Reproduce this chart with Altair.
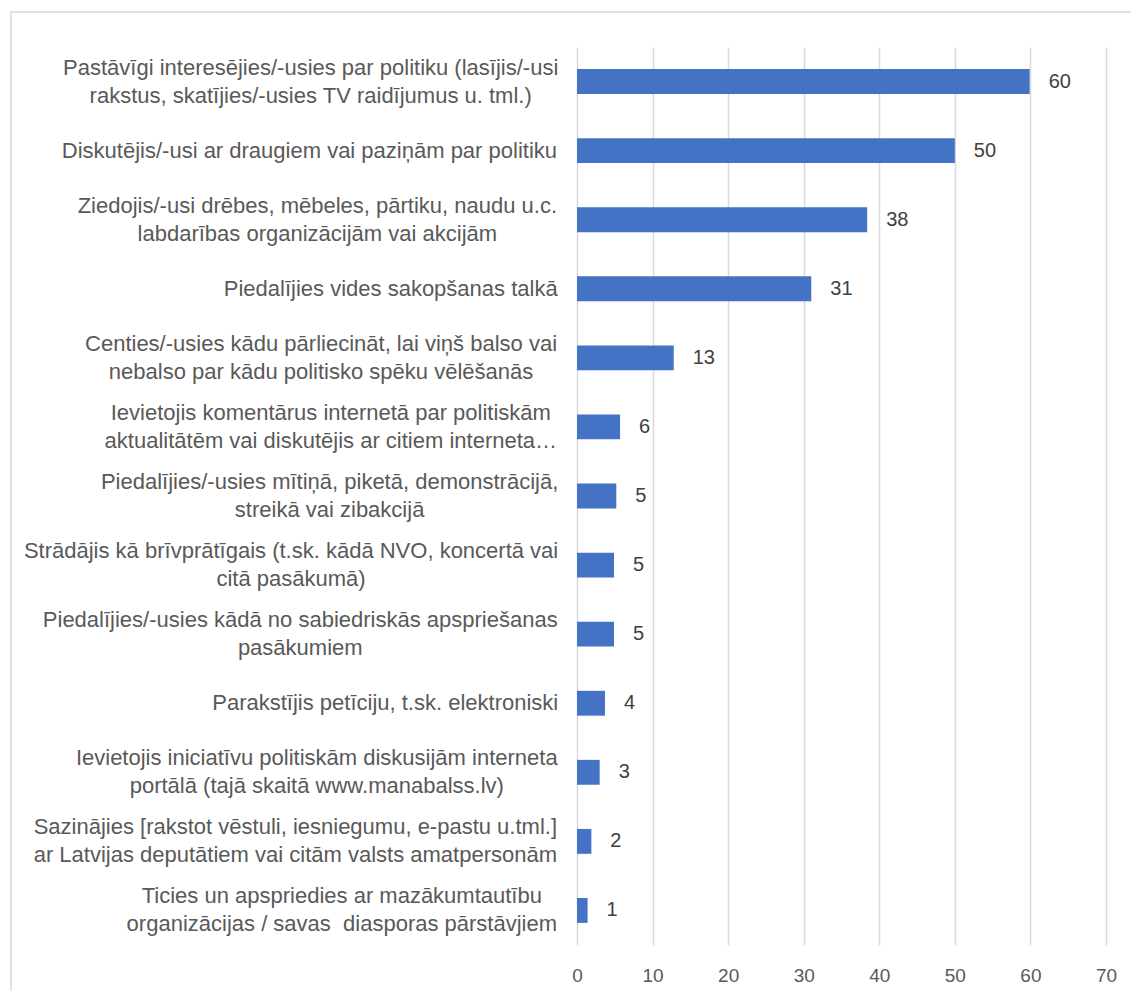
import unicodedata
import altair as alt
import pandas as pd

# ---- data ----
categories = [
    "Pastāvīgi interesējies/-usies par politiku (lasījis/-usi\nrakstus, skatījies/-usies TV raidījumus u. tml.)",
    "Diskutējis/-usi ar draugiem vai paziņām par politiku",
    "Ziedojis/-usi drēbes, mēbeles, pārtiku, naudu u.c.\nlabdarības organizācijām vai akcijām",
    "Piedalījies vides sakopšanas talkā",
    "Centies/-usies kādu pārliecināt, lai viņš balso vai\nnebalso par kādu politisko spēku vēlēšanās",
    "Ievietojis komentārus internetā par politiskām\naktualitātēm vai diskutējis ar citiem interneta…",
    "Piedalījies/-usies mītiņā, piketā, demonstrācijā,\nstreikā vai zibakcijā",
    "Strādājis kā brīvprātīgais (t.sk. kādā NVO, koncertā vai\ncitā pasākumā)",
    "Piedalījies/-usies kādā no sabiedriskās apspriešanas\npasākumiem",
    "Parakstījis petīciju, t.sk. elektroniski",
    "Ievietojis iniciatīvu politiskām diskusijām interneta\nportālā (tajā skaitā www.manabalss.lv)",
    "Sazinājies [rakstot vēstuli, iesniegumu, e-pastu u.tml.]\nar Latvijas deputātiem vai citām valsts amatpersonām",
    "Ticies un apspriedies ar mazākumtautību\norganizācijas / savas\u00a0 diasporas pārstāvjiem",
]
values = [59.9, 50.0, 38.4, 31.0, 12.8, 5.7, 5.2, 4.9, 4.9, 3.7, 3.0, 1.9, 1.4]
x_ticks = [0, 10, 20, 30, 40, 50, 60, 70]

# ---- styling ----
FONT = "Liberation Sans"
LABEL_SIZE = 22
LINE_H = 28
LABEL_GAP = 20
GRAY = "#595959"

# approximate advance widths (Arial / Liberation Sans metrics, per 1000 em)
_W = dict(zip("abcdefghijklmnopqrstuvwxyz",
              [556, 556, 500, 556, 556, 278, 556, 556, 222, 222, 500, 222, 833,
               556, 556, 556, 556, 333, 500, 278, 556, 500, 722, 500, 500, 500]))
_W.update(dict(zip("ABCDEFGHIJKLMNOPQRSTUVWXYZ",
                   [667, 667, 722, 722, 667, 611, 778, 722, 278, 500, 667, 556, 833,
                    722, 778, 667, 778, 722, 667, 611, 722, 667, 944, 667, 667, 611])))
_W.update({" ": 278, "\u00a0": 278, ",": 278, ".": 278, "/": 278, "-": 333, "(": 333,
           ")": 333, "[": 278, "]": 278, "…": 1000})


def text_width(s, size):
    total = 0
    for ch in s:
        base = unicodedata.normalize("NFD", ch)[0]
        total += _W.get(base, 556)
    return total / 1000 * size


label_x = []
n_lines = []
for c in categories:
    lines = c.split("\n")
    w = max(text_width(line, LABEL_SIZE) for line in lines)
    label_x.append(-LABEL_GAP - w / 2)
    n_lines.append(len(lines))

df = pd.DataFrame({"cat": categories, "v": values, "lx": label_x, "n": n_lines})

W, H = 529, 898
PAD_L, PAD_T, PAD_R, PAD_B = 569, 39, 25, 46

yscale = alt.Scale(paddingInner=0.64, paddingOuter=0.32)
ycode = alt.Y("cat:N", sort=categories, scale=yscale, axis=None)

bars = alt.Chart(df).mark_bar(color="#4472C4").encode(
    x=alt.X("v:Q",
            scale=alt.Scale(domain=[0, 70], nice=False),
            axis=alt.Axis(values=x_ticks, title=None, grid=True, gridColor="#d9d9d9",
                          gridWidth=1.5, domain=False, ticks=False, tickSize=0,
                          labelFont=FONT, labelFontSize=19, labelColor=GRAY,
                          labelPadding=21, labelFlush=False)),
    y=ycode,
)

values_text = alt.Chart(df).mark_text(
    align="left", baseline="middle", dx=19, font=FONT, fontSize=20, color="#404040"
).encode(
    x=alt.X("v:Q", scale=alt.Scale(domain=[0, 70], nice=False)),
    y=ycode,
    text=alt.Text("v:Q", format=".0f"),
)


def cat_layer(nl):
    return alt.Chart(df).transform_filter(alt.datum.n == nl).mark_text(
        align="center", baseline="middle", font=FONT, fontSize=LABEL_SIZE, color=GRAY,
        lineBreak="\n", lineHeight=LINE_H, dy=-(nl - 1) * LINE_H / 2,
    ).encode(
        x=alt.X("lx:Q", scale=None, axis=None),
        y=ycode,
        text="cat:N",
    )


border = alt.Chart(pd.DataFrame({"a": [0]})).mark_rect(
    fill="transparent", stroke="#d9d9d9", strokeWidth=1.5
).encode(
    x=alt.value(-566), x2=alt.value(620), y=alt.value(-35), y2=alt.value(1000)
)

bars_layer = alt.layer(bars, values_text)

chart = alt.layer(border, bars_layer, cat_layer(1), cat_layer(2)).resolve_scale(
    x="independent"
).properties(
    width=W, height=H,
    autosize=alt.AutoSizeParams(type="none"),
    padding={"left": PAD_L, "top": PAD_T, "right": PAD_R, "bottom": PAD_B},
    background="white",
).configure_view(strokeWidth=0)

chart.save("out.html", embed_options={"renderer": "svg", "actions": False})
